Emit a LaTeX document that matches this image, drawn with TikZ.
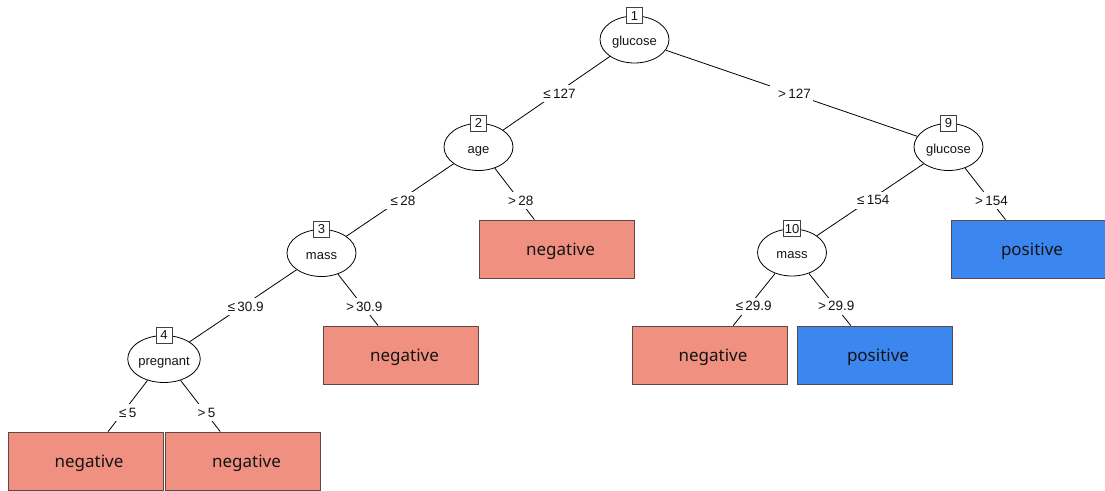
\documentclass[tikz,border=0pt]{standalone}
\usepackage{fontspec}
\setmainfont{Liberation Sans}
\newfontfamily\leaffont{Noto Sans}
\usetikzlibrary{shapes.geometric,calc}
\definecolor{negc}{RGB}{240,144,128}
\definecolor{posc}{RGB}{59,135,239}
\definecolor{leafline}{RGB}{95,72,70}
\definecolor{txt}{RGB}{20,20,20}
\tikzset{
  inner/.style={ellipse, draw=black, line width=0.8pt, minimum width=69pt, minimum height=47pt,
    inner sep=0pt, text=txt, text height=15pt, text depth=3pt, font=\fontsize{13}{15}\selectfont},
  numbox/.style={draw=black!75, fill=white, line width=0.8pt, minimum width=16pt, minimum height=16pt,
    inner sep=1.5pt, text=txt, font=\fontsize{13}{15}\selectfont},
  leafbox/.style={draw=leafline, line width=0.8pt, minimum width=155pt, minimum height=58pt,
    inner sep=0pt, text=txt, text height=16pt, text depth=4pt, font=\leaffont\fontsize{17}{20}\selectfont},
  negleaf/.style={leafbox, fill=negc},
  posleaf/.style={leafbox, fill=posc},
  elabel/.style={fill=white, inner xsep=2.5pt, inner ysep=0pt, minimum height=17pt, text=txt,
    font=\fontsize{13.5}{16}\selectfont},
  edgeline/.style={draw=black, line width=0.8pt}
}
\newcommand{\lekern}{\kern6pt}
\newcommand{\lfkern}{\kern7pt}
\begin{document}
\begin{tikzpicture}[x=1pt,y=-1pt]
\useasboundingbox (0,0) rectangle (1105,490);
% inner nodes
\node[inner] (n1) at (634.5,39.5) {glucose};
\node[inner] (n2) at (478.5,147) {age};
\node[inner] (n3) at (321.5,253) {mass};
\node[inner] (n4) at (164,359) {pregnant};
\node[inner] (n9) at (948.5,147) {glucose};
\node[inner] (n10) at (792,252.5) {mass};
% leaves
\node[negleaf] (l5) at (557,249) {\lfkern negative};
\node[negleaf] (l6) at (401,355) {\lfkern negative};
\node[negleaf] (l7) at (85.5,461) {\lfkern negative};
\node[negleaf] (l8) at (243,461) {\lfkern negative};
\node[negleaf] (l11) at (709.5,355) {\lfkern negative};
\node[posleaf] (l12) at (874.5,355) {\lfkern positive};
\node[posleaf] (l13) at (1028.5,249) {\lfkern positive};
% edges
\draw[edgeline] (n1) -- (n2);
\draw[edgeline] (n1) -- (n9);
\draw[edgeline] (n2) -- (n3);
\draw[edgeline] (n2) -- (l5);
\draw[edgeline] (n3) -- (n4);
\draw[edgeline] (n3) -- (l6);
\draw[edgeline] (n4) -- (l7);
\draw[edgeline] (n4) -- (l8);
\draw[edgeline] (n9) -- (n10);
\draw[edgeline] (n9) -- (l13);
\draw[edgeline] (n10) -- (l11);
\draw[edgeline] (n10) -- (l12);
% edge labels
\node[elabel] (e1) at ($(n1.center)!0.5!(n2.center)+(0,0.5)$) {\lekern≤\,127};
\node[elabel] (e2) at ($(n1.center)!0.5!(n9.center)+(0,0.5)$) {\lekern>\,127};
\node[elabel] (e3) at ($(n2.center)!0.5!(n3.center)+(0,0.5)$) {\lekern≤\,28};
\node[elabel] (e4) at ($(n2.center)!0.5!(l5.center)+(0,2.5)$) {\lekern>\,28};
\node[elabel] (e5) at ($(n3.center)!0.5!(n4.center)+(0,0.5)$) {\lekern≤\,30.9};
\node[elabel] (e6) at ($(n3.center)!0.5!(l6.center)+(0,2.5)$) {\lekern>\,30.9};
\node[elabel] (e7) at ($(n4.center)!0.5!(l7.center)+(0,2.5)$) {\lekern≤\,5};
\node[elabel] (e8) at ($(n4.center)!0.5!(l8.center)+(0,2.5)$) {\lekern>\,5};
\node[elabel] (e9) at ($(n9.center)!0.5!(n10.center)+(0,0.5)$) {\lekern≤\,154};
\node[elabel] (e10) at ($(n9.center)!0.5!(l13.center)+(0,2.5)$) {\lekern>\,154};
\node[elabel] (e11) at ($(n10.center)!0.5!(l11.center)+(0,2.5)$) {\lekern≤\,29.9};
\node[elabel] (e12) at ($(n10.center)!0.5!(l12.center)+(0,2.5)$) {\lekern>\,29.9};
% id boxes
\node[numbox] (b1) at (n1.north) {1};
\node[numbox] (b2) at (n2.north) {2};
\node[numbox] (b3) at (n3.north) {3};
\node[numbox] (b4) at (n4.north) {4};
\node[numbox] (b9) at (n9.north) {9};
\node[numbox] (b10) at (n10.north) {10};
\end{tikzpicture}
\end{document}
